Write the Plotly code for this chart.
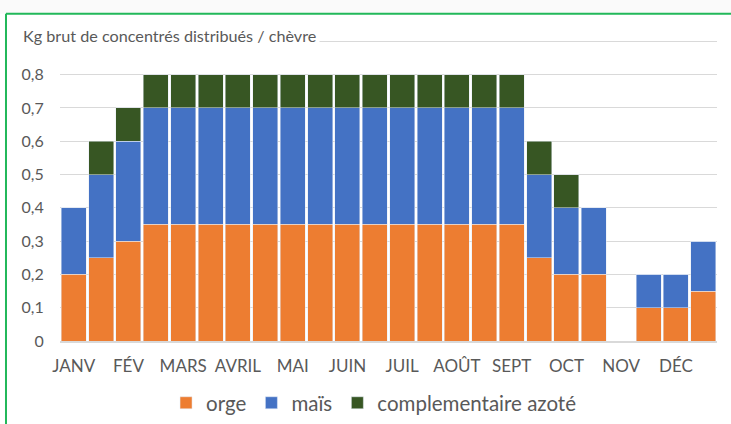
import plotly.graph_objects as go

# 24 half-month periods
periods = list(range(24))
month_labels = ["JANV", "FÉV", "MARS", "AVRIL", "MAI", "JUIN",
                "JUIL", "AOÛT", "SEPT", "OCT", "NOV", "DÉC"]

orge = [0.20, 0.25, 0.30, 0.35, 0.35, 0.35, 0.35, 0.35, 0.35, 0.35, 0.35, 0.35,
        0.35, 0.35, 0.35, 0.35, 0.35, 0.25, 0.20, 0.20, 0.00, 0.10, 0.10, 0.15]
mais = [0.20, 0.25, 0.30, 0.35, 0.35, 0.35, 0.35, 0.35, 0.35, 0.35, 0.35, 0.35,
        0.35, 0.35, 0.35, 0.35, 0.35, 0.25, 0.20, 0.20, 0.00, 0.10, 0.10, 0.15]
azote = [0.00, 0.10, 0.10, 0.10, 0.10, 0.10, 0.10, 0.10, 0.10, 0.10, 0.10, 0.10,
         0.10, 0.10, 0.10, 0.10, 0.10, 0.10, 0.10, 0.00, 0.00, 0.00, 0.00, 0.00]

y_ticks = [0, 0.1, 0.2, 0.3, 0.4, 0.5, 0.6, 0.7, 0.8, 0.9]
y_ticktext = ["0", "0,1", "0,2", "0,3", "0,4", "0,5", "0,6", "0,7", "0,8", ""]

FONT = "Lato"
GREY = "#595959"

# plot area geometry (px): bottom at 341, 0.1 unit = 33.33 px
PLOT_H = 303.3  # for range 0..0.91

fig = go.Figure()
fig.add_trace(go.Bar(x=periods, y=orge, name="orge", marker_color="#ED7D31"))
fig.add_trace(go.Bar(x=periods, y=mais, name="maïs", marker_color="#4472C4"))
fig.add_trace(go.Bar(x=periods, y=azote, name="complementaire azoté", marker_color="#375623"))


def py(px):
    """paper y for a pixel row (from top)"""
    return (341 - px) / PLOT_H


fig.update_layout(
    barmode="stack",
    bargap=0.09,
    width=731, height=424,
    margin=dict(l=60, r=14, t=424 - 83 - PLOT_H, b=83, autoexpand=False),
    paper_bgcolor="white", plot_bgcolor="white",
    font=dict(family=FONT, color=GREY),
    showlegend=True,
    legend=dict(orientation="h", x=0.478, xanchor="center", y=py(403), yanchor="middle",
                font=dict(size=20.5, color=GREY), itemwidth=30, traceorder="normal"),
    xaxis=dict(range=[-0.5, 23.5], tickmode="array",
               tickvals=[2 * i for i in range(12)], ticktext=month_labels,
               tickfont=dict(size=17, color=GREY), showgrid=False,
               showline=True, linecolor="#D9D9D9", linewidth=1.5,
               ticks="outside", ticklen=9, tickcolor="rgba(0,0,0,0)", zeroline=False),
    yaxis=dict(range=[0, 0.91], tickmode="array", tickvals=y_ticks, ticktext=y_ticktext,
               tickfont=dict(size=16, color=GREY), showgrid=True, gridcolor="#D9D9D9",
               gridwidth=1, zeroline=False, showline=False, ticks="outside", ticklen=12,
               tickcolor="rgba(0,0,0,0)"),
    shapes=[
        dict(type="rect", xref="paper", yref="paper", x0=-0.2, x1=1.1, y0=py(13.5), y1=py(-10),
             fillcolor="#FAFAFA", line=dict(width=0), layer="below"),
        dict(type="line", xref="paper", yref="paper", x0=-0.0822, x1=1.1, y0=py(13.5), y1=py(13.5),
             line=dict(color="#22B85A", width=2)),
        dict(type="line", xref="paper", yref="paper", x0=-0.0822, x1=-0.0822, y0=py(13.5), y1=py(440),
             line=dict(color="#22B85A", width=2)),
    ],
    annotations=[
        dict(text="Kg brut de concentrés distribués / chèvre", xref="paper", yref="paper",
             x=-0.062, y=py(35), xanchor="left", yanchor="middle", showarrow=False,
             font=dict(size=16.2, color=GREY, family=FONT), bgcolor="white", borderpad=3),
    ],
)

fig.write_html("out.html", config={"displayModeBar": False},
               post_script="document.body.style.margin='0';")
